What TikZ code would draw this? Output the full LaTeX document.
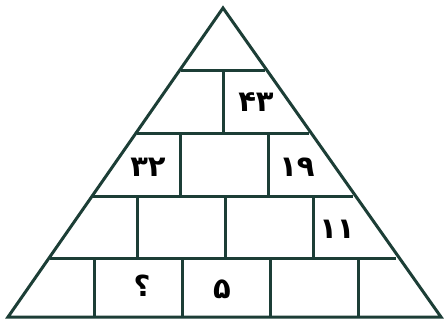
\documentclass[tikz,border=0pt]{standalone}
\usepackage{fontspec}
\newfontfamily\fa[Script=Arabic]{DejaVu Sans}
\definecolor{ink}{RGB}{28,62,54}
\begin{document}
\begin{tikzpicture}[x=0.5pt,y=-0.5pt,
  brick/.style={draw=ink,line width=1.5pt,line join=miter},
  num/.style={font=\fa\bfseries\fontsize{14.5}{16}\selectfont,text=black,inner sep=0pt}]
\useasboundingbox (0,0) rectangle (444,322);
\coordinate (apex) at (223,8);
\coordinate (bl) at (8,317);
\coordinate (br) at (441,317);
% horizontal courses
\draw[brick] (181,70) -- (265,70);
\draw[brick] (137,133) -- (309,133);
\draw[brick] (93,196) -- (353,196);
\draw[brick] (50,258) -- (396,258);
% verticals
\draw[brick] (223,70) -- (223,133);
\draw[brick] (180,133) -- (180,196);
\draw[brick] (268,133) -- (268,196);
\draw[brick] (137,196) -- (137,258);
\draw[brick] (225,196) -- (225,258);
\draw[brick] (313,196) -- (313,258);
\draw[brick] (94,258) -- (94,317);
\draw[brick] (182,258) -- (182,317);
\draw[brick] (270,258) -- (270,317);
\draw[brick] (358,258) -- (358,317);
% outline
\draw[brick] (apex) -- (br) -- (bl) -- cycle;
% numbers
\node[num] (n43) at (256,102) {۴۳};
\node[num] (n32) at (148,167) {۳۲};
\node[num] (n19) at (297,167) {۱۹};
\node[num] (n11) at (337,229) {۱۱};
\node[num] (nq) at (142,286) {؟};
\node[num] (n5) at (222,289) {۵};
\end{tikzpicture}
\end{document}
